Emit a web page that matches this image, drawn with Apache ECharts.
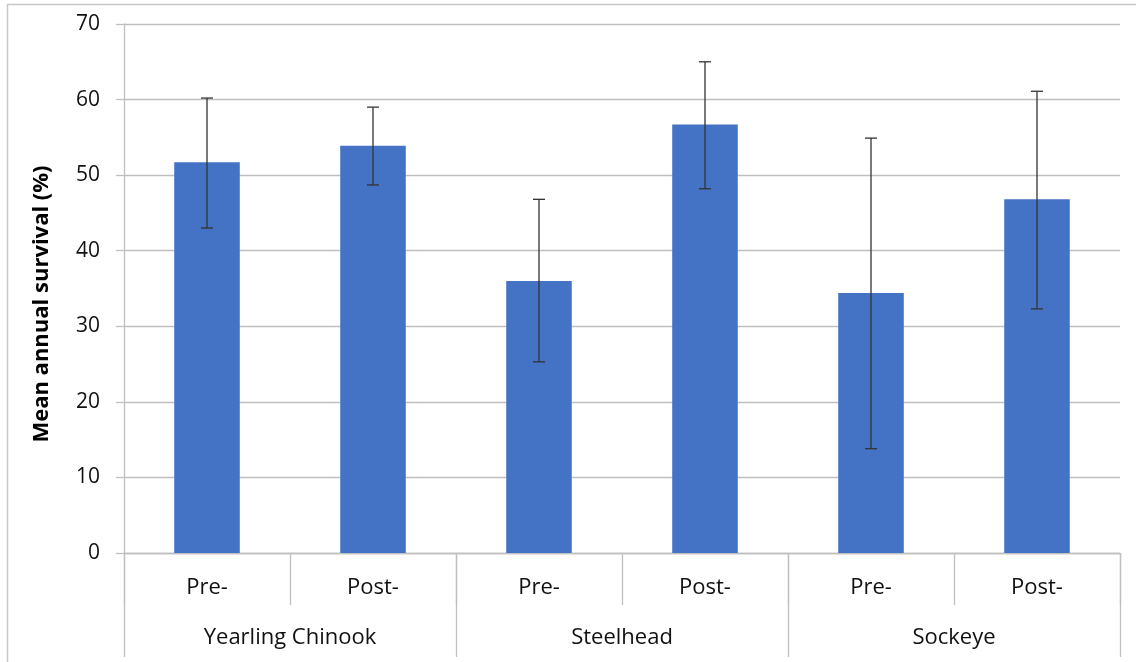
<!DOCTYPE html>
<html>
<head>
<meta charset="utf-8">
<script src="https://cdn.jsdelivr.net/npm/echarts@6/dist/echarts.min.js"></script>
<style>
html,body{margin:0;padding:0;background:#fff;}
#c{width:1136px;height:662px;}
</style>
</head>
<body>
<div id="c"></div>
<script>
const subCategories = ["Pre-", "Post-", "Pre-", "Post-", "Pre-", "Post-"];
const groups = ["Yearling Chinook", "Steelhead", "Sockeye"];
const meanSurvival = [51.7, 53.9, 36.0, 56.7, 34.4, 46.8];
const errLow = [43.0, 48.7, 25.3, 48.2, 13.8, 32.3];
const errHigh = [60.2, 59.0, 46.8, 65.0, 54.9, 61.1];
const yTicks = { min: 0, max: 70, interval: 10 };
const yTitle = "Mean annual survival (%)";

const FONT = "'Open Sans', 'Noto Sans', sans-serif";
const GRID_COLOR = "#bfbfbf";
const TXT = "#111";

const chart = echarts.init(document.getElementById('c'), null, {renderer: 'canvas'});

const errData = meanSurvival.map((v, i) => [i, errLow[i], errHigh[i]]);

chart.setOption({
  animation: false,
  backgroundColor: '#fff',
  grid: { left: 124, right: 16, top: 24, bottom: 109, containLabel: false },
  xAxis: [
    {
      type: 'category',
      data: subCategories,
      gridIndex: 0,
      position: 'bottom',
      axisLine: { show: true, lineStyle: { color: GRID_COLOR, width: 1.3 } },
      axisTick: { show: true, length: 52, lineStyle: { color: GRID_COLOR, width: 1.3 }, alignWithLabel: false },
      axisLabel: { margin: 24, fontFamily: FONT, fontSize: 22, color: TXT, interval: 0 },
      splitLine: { show: false }
    },
    {
      type: 'category',
      data: groups,
      gridIndex: 0,
      position: 'bottom',
      offset: 0,
      axisLine: { show: false },
      axisTick: { show: true, length: 104, lineStyle: { color: GRID_COLOR, width: 1.3 }, alignWithLabel: false },
      axisLabel: { margin: 74, fontFamily: FONT, fontSize: 22, color: TXT, interval: 0 },
      splitLine: { show: false }
    }
  ],
  yAxis: {
    type: 'value',
    min: yTicks.min,
    max: yTicks.max,
    interval: yTicks.interval,
    axisLine: { show: true, lineStyle: { color: GRID_COLOR, width: 1.3 } },
    axisTick: { show: true, length: 8, lineStyle: { color: GRID_COLOR, width: 1.3 } },
    axisLabel: { margin: 24, fontFamily: FONT, fontSize: 21, color: TXT },
    splitLine: { show: true, lineStyle: { color: GRID_COLOR, width: 1.3 } }
  },
  graphic: [
    {
      type: 'rect',
      shape: { x: 7.5, y: 4.5, width: 1200, height: 700 },
      style: { fill: null, stroke: '#c8c8c8', lineWidth: 1.5 },
      silent: true, z: -1
    },
    {
      type: 'text',
      x: 42, y: 304,
      rotation: Math.PI / 2,
      style: {
        text: yTitle,
        font: "bold 22px " + FONT,
        fill: '#000',
        align: 'center',
        verticalAlign: 'middle'
      }
    }
  ],
  series: [
    {
      type: 'bar',
      xAxisIndex: 0,
      data: meanSurvival,
      barWidth: '39.5%',
      itemStyle: { color: '#4472C4' }
    },
    {
      type: 'custom',
      xAxisIndex: 0,
      data: errData,
      z: 10,
      renderItem: function (params, api) {
        const x = api.value(0);
        const lo = api.coord([x, api.value(1)]);
        const hi = api.coord([x, api.value(2)]);
        const cap = 6;
        const style = { stroke: '#333', lineWidth: 1.3 };
        return {
          type: 'group',
          children: [
            { type: 'line', shape: { x1: lo[0], y1: lo[1], x2: hi[0], y2: hi[1] }, style: style },
            { type: 'line', shape: { x1: lo[0] - cap, y1: lo[1], x2: lo[0] + cap, y2: lo[1] }, style: style },
            { type: 'line', shape: { x1: hi[0] - cap, y1: hi[1], x2: hi[0] + cap, y2: hi[1] }, style: style }
          ]
        };
      }
    }
  ]
});
</script>
</body>
</html>
